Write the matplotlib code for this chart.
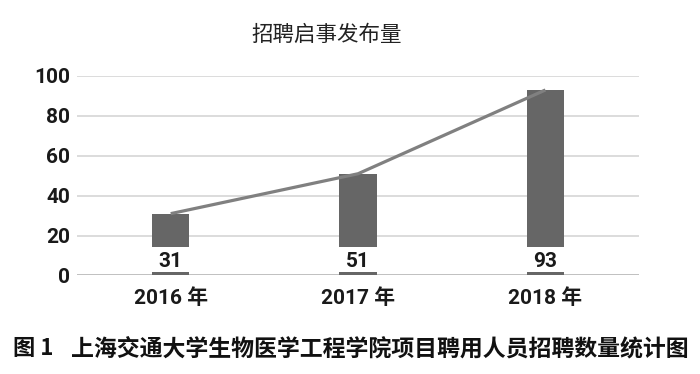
import matplotlib
matplotlib.use("Agg")
import matplotlib.pyplot as plt

categories = ["2016 年", "2017 年", "2018 年"]
values = [31, 51, 93]
yticks = [0, 20, 40, 60, 80, 100]
title = "招聘启事发布量"
caption_fig = "图 1"
caption_text = "上海交通大学生物医学工程学院项目聘用人员招聘数量统计图"

num_font = ["Roboto", "Noto Sans CJK SC"]
cjk_font = ["Noto Sans CJK SC", "DejaVu Sans"]

fig = plt.figure(figsize=(7.0, 3.74), dpi=100)
ax = fig.add_axes([0.110, 0.2634, 0.803, 0.5334])

x = list(range(len(categories)))
bar_color = "#666666"
line_color = "#808080"

ax.bar(x, values, width=0.2, color=bar_color, zorder=2)
# white label band over lower bar part
ax.bar(x, [12.75] * len(x), bottom=1.5, width=0.22, color="white", zorder=3)
for xi, v in zip(x, values):
    ax.text(xi, 6.9, str(v), ha="center", va="center", fontsize=15,
            family=num_font, fontweight="bold", color="#1a1a1a", zorder=4)
ax.plot(x, values, color=line_color, linewidth=2.3, zorder=5, solid_capstyle="butt")

ax.set_xlim(-0.5, 2.5)
ax.set_ylim(0, 100)
ax.set_yticks(yticks)
ax.set_yticklabels([str(t) for t in yticks], family=num_font, fontsize=15,
                   fontweight="bold", color="#1a1a1a")
ax.set_xticks(x)
ax.set_xticklabels(categories, family=num_font, fontsize=15, fontweight="bold",
                   color="#1a1a1a")
ax.tick_params(axis="both", length=0)
ax.tick_params(axis="y", pad=5)
ax.tick_params(axis="x", pad=9)
for s in ax.spines.values():
    s.set_visible(False)
ax.grid(axis="y", color="#d9d9d9", linewidth=1.3, zorder=0)
ax.set_axisbelow(True)
ax.axhline(0, color="#bfbfbf", linewidth=1.3, zorder=1)

fig.text(0.466, 0.906, title, ha="center", va="center", fontsize=15.5,
         family=cjk_font, color="#222222")
fig.text(0.018, 0.067, caption_fig, ha="left", va="center", fontsize=16,
         family=cjk_font, fontweight="bold", color="#111111")
fig.text(0.101, 0.067, caption_text, ha="left", va="center", fontsize=16.5,
         family=cjk_font, fontweight="bold", color="#111111")

fig.savefig("out.png", dpi=100)
